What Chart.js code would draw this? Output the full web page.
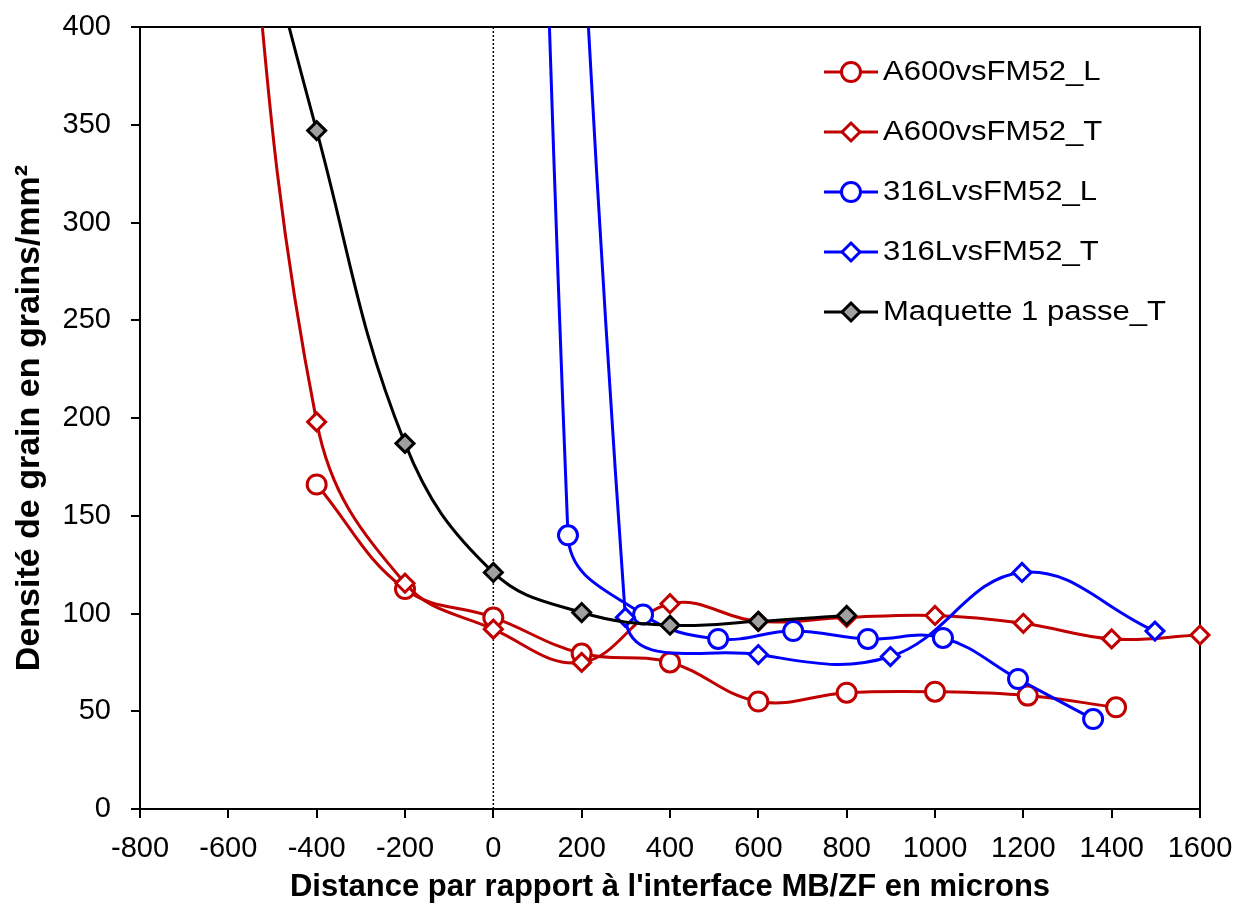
<!DOCTYPE html>
<html lang="fr">
<head>
    <meta charset="UTF-8">
    <title>Densité de grain</title>
    <script src="https://cdn.jsdelivr.net/npm/chart.js"></script>
    <style>
        body {
            margin: 0;
            background-color: #fff;
        }
        #wrap {
            width: 1237px;
            height: 906px;
        }
    </style>
</head>
<body>
    <div id="wrap"><canvas id="grainChart"></canvas></div>

    <script>
        // values (x in microns, y in grains/mm²)
        const xA600L = [-400, -200, 0, 200, 400, 600, 800, 1000, 1210, 1410];
        const yA600L = [166, 112.5, 98, 79.5, 75, 55, 59.5, 60, 58, 52];

        const xA600T = [-600, -400, -200, 0, 200, 400, 600, 800, 1000, 1200, 1400, 1600];
        const yA600T = [580, 198, 115.5, 92, 75, 105, 96, 98, 99, 95, 87, 89];

        const x316L = [0, 169, 339, 509, 679, 848, 1018, 1188, 1358];
        const y316L = [2000, 140, 99.5, 87, 91, 87, 87.5, 66.5, 46];

        const x316T = [0, 299, 600, 899, 1197, 1498];
        const y316T = [2000, 98, 79, 78, 121, 91];

        const xMaq = [-600, -400, -200, 0, 200, 400, 600, 800];
        const yMaq = [520, 347, 187, 121, 100.5, 94, 96, 99];

        const interfaceX = [0, 0];
        const interfaceY = [0, 400];

        const xTicks = { min: -800, max: 1600, step: 200 };
        const yTicks = { min: 0, max: 400, step: 50 };

        const RED = '#C00000';
        const BLUE = '#0000FF';
        const FONT = '"Liberation Sans", Arial, sans-serif';

        function pts(xs, ys) {
            return xs.map((x, i) => ({ x: x, y: ys[i] }));
        }

        function series(label, xs, ys, color, style, fill, order) {
            return {
                label: label,
                data: pts(xs, ys),
                borderColor: color,
                backgroundColor: fill,
                borderWidth: 3,
                pointStyle: style,
                pointRadius: style === 'circle' ? 9.5 : 9,
                pointBorderWidth: 3,
                pointBackgroundColor: fill,
                pointBorderColor: color,
                tension: 0.4,
                capBezierPoints: false,
                order: order,
                clip: { left: 15, right: 15, top: 0, bottom: 15 }
            };
        }

        const datasets = [
            series('A600vsFM52_L', xA600L, yA600L, RED, 'circle', '#fff', 5),
            series('A600vsFM52_T', xA600T, yA600T, RED, 'rectRot', '#fff', 4),
            series('316LvsFM52_L', x316L, y316L, BLUE, 'circle', '#fff', 3),
            series('316LvsFM52_T', x316T, y316T, BLUE, 'rectRot', '#fff', 2),
            series('Maquette 1 passe_T', xMaq, yMaq, '#000', 'rectRot', '#A0A0A0', 1),
            {
                label: 'interface',
                data: pts(interfaceX, interfaceY),
                borderColor: '#000',
                borderWidth: 1.5,
                borderDash: [2, 2],
                pointRadius: 0,
                order: 6
            }
        ];

        // frame on top and right side of the plot
        const framePlugin = {
            id: 'frame',
            beforeDatasetsDraw(chart) {
                const a = chart.chartArea;
                const ctx = chart.ctx;
                ctx.save();
                ctx.strokeStyle = '#000';
                ctx.lineWidth = 2;
                ctx.beginPath();
                ctx.moveTo(a.left, a.top);
                ctx.lineTo(a.right, a.top);
                ctx.lineTo(a.right, a.bottom);
                ctx.stroke();
                ctx.restore();
            }
        };

        // legend with line + marker, like the spreadsheet one
        const legendPlugin = {
            id: 'lineLegend',
            afterDraw(chart) {
                const ctx = chart.ctx;
                const x0 = 824, y0 = 72, gap = 60;
                ctx.save();
                chart.data.datasets.slice(0, 5).forEach((ds, i) => {
                    const y = y0 + i * gap;
                    ctx.strokeStyle = ds.borderColor;
                    ctx.lineWidth = 3;
                    ctx.beginPath();
                    ctx.moveTo(x0, y);
                    ctx.lineTo(x0 + 54, y);
                    ctx.stroke();
                    ctx.fillStyle = ds.pointBackgroundColor;
                    ctx.strokeStyle = ds.pointBorderColor;
                    Chart.helpers.drawPoint(ctx, {
                        pointStyle: ds.pointStyle,
                        radius: ds.pointRadius,
                        rotation: 0,
                        borderWidth: 3
                    }, x0 + 27, y);
                    // text is a bit wider than Liberation Sans in the original
                    ctx.save();
                    ctx.translate(x0 + 59, y + 1);
                    ctx.scale(1.15, 1);
                    ctx.fillStyle = '#000';
                    ctx.font = '27px ' + FONT;
                    ctx.textBaseline = 'middle';
                    ctx.textAlign = 'left';
                    ctx.fillText(ds.label, 0, 0);
                    ctx.restore();
                });
                ctx.restore();
            }
        };

        const ctx = document.getElementById('grainChart').getContext('2d');
        const grainChart = new Chart(ctx, {
            type: 'line',
            data: { datasets: datasets },
            plugins: [framePlugin, legendPlugin],
            options: {
                responsive: true,
                maintainAspectRatio: false,
                animation: false,
                layout: { padding: { left: 0, top: 27, right: 37, bottom: 0 } },
                plugins: {
                    legend: { display: false },
                    tooltip: { enabled: false }
                },
                scales: {
                    x: {
                        type: 'linear',
                        min: xTicks.min,
                        max: xTicks.max,
                        afterFit(scale) {
                            scale.height = 97;
                            scale.paddingLeft = 0;
                            scale.paddingRight = 0;
                        },
                        ticks: {
                            stepSize: xTicks.step,
                            color: '#000',
                            padding: 14,
                            maxRotation: 0,
                            callback: v => String(v),
                            font: { family: FONT, size: 29 }
                        },
                        grid: { drawOnChartArea: false, drawTicks: true, tickLength: 9, color: '#000', lineWidth: 2 },
                        border: { display: true, color: '#000', width: 2 },
                        title: {
                            display: true,
                            text: "Distance par rapport à l'interface MB/ZF en microns",
                            color: '#000',
                            padding: { top: 0, bottom: 0 },
                            font: { family: FONT, size: 31, weight: 'bold' }
                        }
                    },
                    y: {
                        min: yTicks.min,
                        max: yTicks.max,
                        afterFit(scale) {
                            scale.width = 140;
                            scale.paddingTop = 0;
                            scale.paddingBottom = 0;
                        },
                        ticks: {
                            stepSize: yTicks.step,
                            color: '#000',
                            padding: 20,
                            callback: v => String(v),
                            font: { family: FONT, size: 29 }
                        },
                        grid: { drawOnChartArea: false, drawTicks: true, tickLength: 9, color: '#000', lineWidth: 2 },
                        border: { display: true, color: '#000', width: 2 },
                        title: {
                            display: true,
                            text: 'Densité de grain en grains/mm²',
                            color: '#000',
                            padding: { top: 9, bottom: 4 },
                            font: { family: FONT, size: 34, weight: 'bold' }
                        }
                    }
                }
            }
        });
    </script>
</body>
</html>
